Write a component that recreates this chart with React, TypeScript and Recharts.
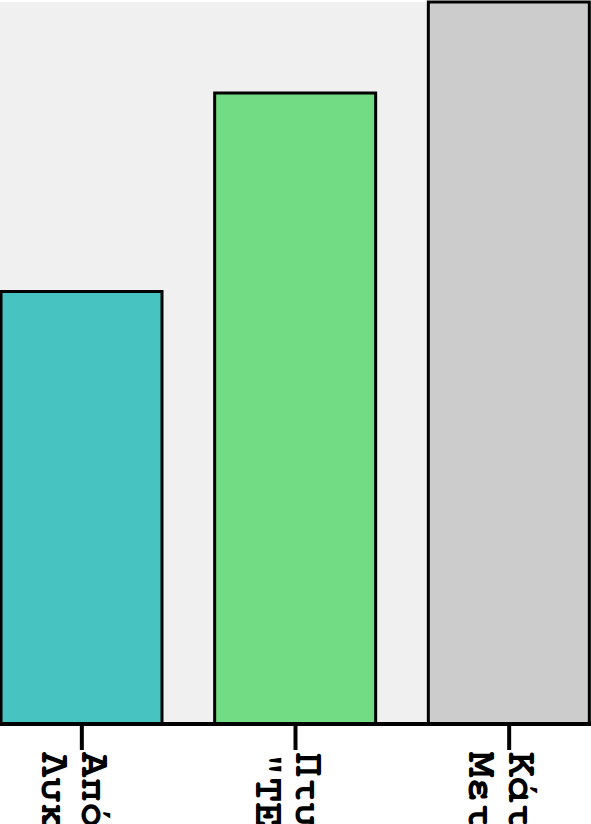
import React from 'react';
import { BarChart, Bar, XAxis, YAxis, CartesianGrid, Cell } from 'recharts';

const categories = ['Απόφοιτοι Λυκείου', 'Πτυχιούχοι "ΤΕΙ"', 'Κάτοχοι Μεταπτυχιακού'];
const values = [59.9, 87.4, 100];
const colors = ['#47c4c2', '#72dc84', '#cccccc'];

const data = categories.map((name, i) => ({ name, value: values[i] }));

function GreekTick(props: any) {
  const { x, y, payload } = props;
  const lines = String(payload.value).split(' ');
  return (
    <g transform={`translate(${x},${y}) rotate(90)`}>
      <text x={0} y={0} fill="#000" fontSize={42} fontWeight="bold" fontFamily="FreeMono, monospace" textAnchor="start">
        {lines.map((l, i) => (
          <tspan key={i} x={0} dy={i === 0 ? 0 : 40}>{l}</tspan>
        ))}
      </text>
    </g>
  );
}

export default function App() {
  return (
    <div style={{ position: 'absolute', left: 0, top: 0, width: 591, height: 824, overflow: 'hidden', background: '#fff' }}>
      <div style={{ marginLeft: -25 }}>
        <BarChart width={641} height={824} data={data} margin={{ top: 2, right: 0, bottom: 0, left: 0 }}>
          <CartesianGrid fill="#f0f0f0" stroke="none" />
          <YAxis hide domain={[0, 100]} />
          <XAxis
            dataKey="name"
            height={100}
            interval={0}
            tickSize={26}
            tickMargin={2}
            axisLine={{ stroke: '#000', strokeWidth: 4 }}
            tickLine={{ stroke: '#000', strokeWidth: 4 }}
            tick={<GreekTick />}
          />
          <Bar dataKey="value" barSize={161} stroke="#000" strokeWidth={3} isAnimationActive={false}>
            {data.map((d, i) => (
              <Cell key={d.name} fill={colors[i]} />
            ))}
          </Bar>
        </BarChart>
      </div>
    </div>
  );
}
